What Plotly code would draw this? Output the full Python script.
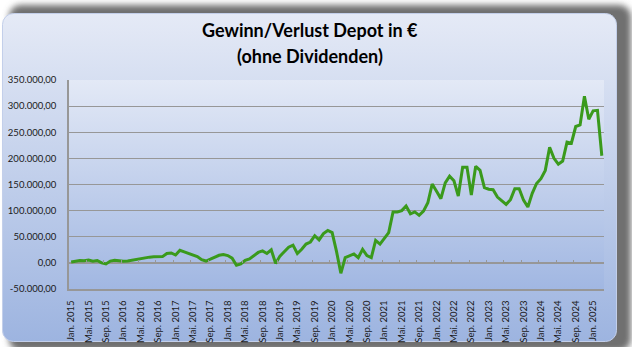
import base64
import plotly.graph_objects as go

# Monthly profit/loss of the depot (EUR), Jan 2015 .. Mar 2025
month_names = ["Jan.", "Feb.", "Mär.", "Apr.", "Mai.", "Jun.",
               "Jul.", "Aug.", "Sep.", "Okt.", "Nov.", "Dez."]
categories = [f"{month_names[m]} {y}" for y in range(2015, 2026) for m in range(12)][:123]

gain_loss = [
    1500, 3500, 4500, 4000, 5500, 3000, 4500, 0, -2000, 3500, 5000, 4000,
    3000, 3500, 5000, 6500, 8500, 10000, 11000, 11500, 11500, 12000, 18000, 19000,
    15000, 24000, 21000, 18000, 15000, 12000, 6000, 3500, 7000, 11000, 14500, 16000,
    14000, 9000, -4500, -2000, 5000, 7500, 13000, 20000, 23000, 18000, 25000, -1000,
    13000, 22000, 30000, 34000, 18000, 26000, 36000, 40000, 52000, 44000, 56000, 62000,
    58000, 22000, -20000, 10000, 13000, 17000, 10000, 26000, 14000, 10000, 43000, 36000,
    47000, 58000, 97500, 97500, 100000, 109000, 94000, 97500, 91000, 99000, 115000, 151000,
    137000, 123000, 153000, 166000, 157000, 128000, 183000, 183000, 130000, 185000, 177000, 144000,
    141000, 140000, 126000, 118000, 112000, 121000, 142000, 142000, 120000, 107000, 133000, 152000,
    161000, 177000, 221000, 200000, 189000, 195000, 231000, 229000, 261000, 264000, 319000, 275000,
    291000, 292000, 205000,
]

y_tick_vals = [-50000, 0, 50000, 100000, 150000, 200000, 250000, 300000, 350000]
y_tick_labels = ["-50.000,00", "0,00", "50.000,00", "100.000,00", "150.000,00",
                 "200.000,00", "250.000,00", "300.000,00", "350.000,00"]

title_lines = ["Gewinn/Verlust Depot in €", "(ohne Dividenden)"]

# label every fourth month
x_idx = list(range(len(categories)))
x_tick_vals = x_idx[::4]
x_tick_labels = categories[::4]
x_tick_marks = [v - 0.5 for v in x_tick_vals]

W, H = 632, 347
ML, MR, MT, MB = 69, 28, 80, 58
PW, PH = W - ML - MR, H - MT - MB


def paper_y(py):
    """Convert a pixel row of the figure to paper coordinates."""
    return (H - MB - py) / PH


# chart frame: shadow, rounded gradient box and plot-area gradient
svg = f'''<svg xmlns="http://www.w3.org/2000/svg" width="{W}" height="{H}" viewBox="0 0 {W} {H}">
<defs>
<linearGradient id="frame" x1="0" y1="0" x2="0" y2="1">
<stop offset="0" stop-color="#e5eaf6"/><stop offset="1" stop-color="#9db4e0"/></linearGradient>
<linearGradient id="plot" x1="0" y1="0" x2="0" y2="1">
<stop offset="0" stop-color="#e3e9f6"/><stop offset="1" stop-color="#a1b7e2"/></linearGradient>
<filter id="sh" x="-10%" y="-10%" width="120%" height="120%"><feGaussianBlur stdDeviation="3"/></filter>
</defs>
<rect x="9" y="5" width="622" height="346" rx="12" fill="#707070" filter="url(#sh)"/>
<rect x="2.5" y="13.5" width="614" height="328" rx="11" fill="url(#frame)" stroke="#c3cfea" stroke-width="1"/>
<rect x="{ML}" y="{MT}" width="{PW}" height="{PH}" fill="url(#plot)"/>
</svg>'''
bg_src = "data:image/svg+xml;base64," + base64.b64encode(svg.encode()).decode()

grid_col = "#979797"
line_col = "#3a9a1c"
tick_font = dict(size=9.5, family="Lato", color="#1a1a1a")

fig = go.Figure()
fig.add_trace(go.Scatter(
    x=x_idx, y=gain_loss, mode="lines",
    line=dict(color=line_col, width=3),
    hoverinfo="skip", showlegend=False,
))
# carrier trace for the tick-mark axis on the zero line
fig.add_trace(go.Scatter(x=[None], y=[None], xaxis="x2", showlegend=False, hoverinfo="skip"))

title_rows = [30, 56]
annotations = [
    dict(text=f"<b>{t}</b>", xref="paper", yref="paper",
         x=(310 - ML) / PW, y=paper_y(r), xanchor="center", yanchor="middle",
         showarrow=False, font=dict(family="Lato", size=18, color="#000000"))
    for t, r in zip(title_lines, title_rows)
]

fig.update_layout(
    width=W, height=H,
    margin=dict(l=ML, r=MR, t=MT, b=MB, autoexpand=False),
    paper_bgcolor="white",
    plot_bgcolor="rgba(0,0,0,0)",
    font=dict(family="Lato", color="#1a1a1a"),
    annotations=annotations,
    images=[dict(
        source=bg_src, xref="paper", yref="paper",
        x=-ML / PW, y=(H - MB) / PH, sizex=W / PW, sizey=H / PH,
        xanchor="left", yanchor="top", sizing="stretch", layer="below",
    )],
    xaxis=dict(
        range=[-0.5, len(categories) - 0.5],
        tickvals=x_tick_vals, ticktext=x_tick_labels, tickangle=-90,
        tickfont=tick_font,
        ticks="", showgrid=False, zeroline=False, automargin=False,
        showline=True, linecolor=grid_col, linewidth=1.5,
        ticklabelstandoff=6,
    ),
    xaxis2=dict(
        overlaying="x", anchor="free", position=0.125,
        range=[-0.5, len(categories) - 0.5],
        tickvals=x_tick_marks, ticks="inside", ticklen=3, tickwidth=1,
        tickcolor=grid_col, showticklabels=False, showgrid=False,
        zeroline=False, showline=False,
    ),
    yaxis=dict(
        range=[-50000, 350000],
        tickvals=y_tick_vals, ticktext=y_tick_labels,
        tickfont=tick_font,
        ticks="", showgrid=True, gridcolor=grid_col, gridwidth=1.3,
        zeroline=True, zerolinecolor=grid_col, zerolinewidth=1.5,
        showline=True, linecolor=grid_col, linewidth=1.5, automargin=False,
        ticklabelstandoff=9,
    ),
)

fig.write_html("out.html")
